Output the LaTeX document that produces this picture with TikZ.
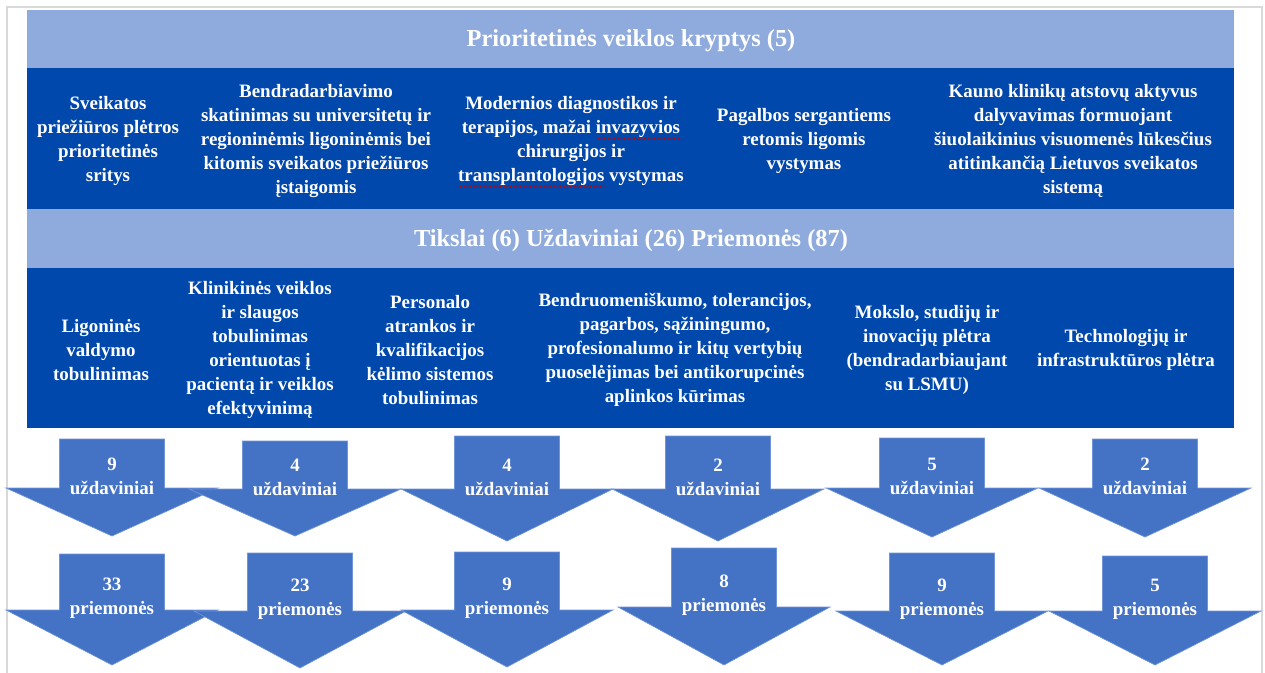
\documentclass[tikz,border=0pt]{standalone}
\usepackage{fontspec}
\setmainfont{Liberation Serif}
\usetikzlibrary{decorations.pathmorphing}
\definecolor{deep}{HTML}{0048AB}
\definecolor{pale}{HTML}{8FAADC}
\definecolor{arwfill}{HTML}{4472C4}
\definecolor{arwline}{HTML}{7095D8}
\definecolor{frame}{HTML}{D9D9D9}
\tikzset{hdr/.style={text=white,font=\bfseries\fontsize{18.3}{22}\selectfont,inner sep=0pt}, cell/.style={text=white,align=center,font=\bfseries\fontsize{14.2}{18}\selectfont,inner sep=0pt}, arw/.style={fill=arwfill,draw=arwline,line width=0.5pt,line join=miter}, squig/.style={draw=red!80!black,line width=0.4pt,decorate,decoration={snake,amplitude=0.5pt,segment length=2.5pt}}}
% block arrow: name, centre x, top, wing line, tip, text
\newcommand{\dnarrow}[6]{\filldraw[arw]({#2-52.5},#3)--({#2+52.5},#3)--({#2+52.5},#4)--({#2+106},#4)--(#2,#5)--({#2-106},#4)--({#2-52.5},#4)--cycle;\node[cell](#1)at(#2,{#4-12}){#6};}

\begin{document}
\begin{tikzpicture}[x=0.75pt,y=-0.75pt]
\useasboundingbox (0,0) rectangle (1265,672);
\draw[frame,line width=1.5pt](7,690)--(7,7)--(1262,7)--(1262,690);
% bands
\fill[pale](27,10)rectangle(1234,68);\fill[deep](27,68)rectangle(1234,209);
\fill[pale](27,209)rectangle(1234,268);\fill[deep](27,268)rectangle(1234,428);
\node[hdr](kryptys)at(631,41){Prioritetinės veiklos kryptys (5)};
\node[hdr](tikslai)at(631,240){Tikslai (6) Uždaviniai (26) Priemonės (87)};
% kryptys
\node[cell](k1)at(108,141){Sveikatos\\priežiūros plėtros\\prioritetinės\\sritys};
\node[cell](k2)at(316,141){Bendradarbiavimo\\skatinimas su universitetų ir\\regioninėmis ligoninėmis bei\\kitomis sveikatos priežiūros\\įstaigomis};
\node[cell](k3)at(571,141){Modernios diagnostikos ir\\terapijos, mažai invazyvios\\chirurgijos ir\\transplantologijos vystymas};
\node[cell](k4)at(804,141){Pagalbos sergantiems\\retomis ligomis\\vystymas};
\node[cell](k5)at(1073,141){Kauno klinikų atstovų aktyvus\\dalyvavimas formuojant\\šiuolaikinius visuomenės lūkesčius\\atitinkančią Lietuvos sveikatos\\sistemą};
\draw[squig](597,139)--(681,139);\draw[squig](458,186)--(605,186);
% tikslai
\node[cell](t1)at(101,350){Ligoninės\\valdymo\\tobulinimas};
\node[cell](t2)at(260,350){Klinikinės veiklos\\ir slaugos\\tobulinimas\\orientuotas į\\pacientą ir veiklos\\efektyvinimą};
\node[cell](t3)at(430,350){Personalo\\atrankos ir\\kvalifikacijos\\kėlimo sistemos\\tobulinimas};
\node[cell](t4)at(675,350){Bendruomeniškumo, tolerancijos,\\pagarbos, sąžiningumo,\\profesionalumo ir kitų vertybių\\puoselėjimas bei antikorupcinės\\aplinkos kūrimas};
\node[cell](t5)at(927,350){Mokslo, studijų ir\\inovacijų plėtra\\(bendradarbiaujant\\su LSMU)};
\node[cell](t6)at(1126,350){Technologijų ir\\infrastruktūros plėtra};
% uzdaviniai
\dnarrow{u1}{112}{439}{488}{536}{9\\uždaviniai}
\dnarrow{u2}{295}{441}{489}{536}{4\\uždaviniai}
\dnarrow{u3}{507}{436}{489}{541}{4\\uždaviniai}
\dnarrow{u4}{718}{436}{489}{541}{2\\uždaviniai}
\dnarrow{u5}{932}{438}{488}{537}{5\\uždaviniai}
\dnarrow{u6}{1145}{439}{488}{537}{2\\uždaviniai}
% priemones
\dnarrow{p1}{112}{554}{610}{665}{33\\priemonės}
\dnarrow{p2}{300}{553}{611}{668}{23\\priemonės}
\dnarrow{p3}{507}{552}{610}{667}{9\\priemonės}
\dnarrow{p4}{724}{548}{607}{665}{8\\priemonės}
\dnarrow{p5}{942}{553}{611}{665}{9\\priemonės}
\dnarrow{p6}{1155}{556}{611}{665}{5\\priemonės}
\end{tikzpicture}
\end{document}
